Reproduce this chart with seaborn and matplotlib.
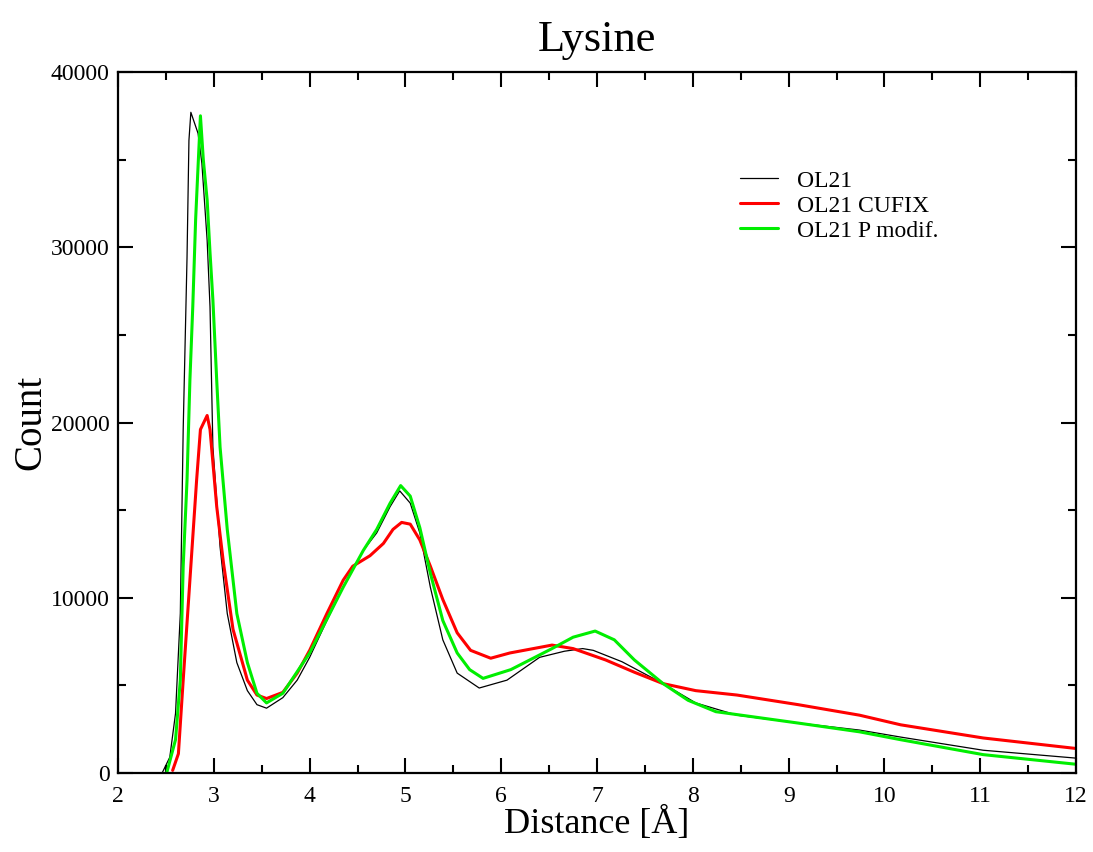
import numpy as np
import pandas as pd
import matplotlib
matplotlib.use("Agg")
import matplotlib.pyplot as plt
import seaborn as sns
from matplotlib.ticker import MultipleLocator
from matplotlib.lines import Line2D

# ---- data ----
x_ol21 = [2.46, 2.54, 2.60, 2.65, 2.68, 2.72, 2.74, 2.76, 2.835, 2.875, 2.93, 2.96, 2.99,
          3.065, 3.14, 3.24, 3.35, 3.45, 3.55, 3.72, 3.87, 4.0, 4.18, 4.35, 4.56, 4.70,
          4.84, 4.94, 5.05, 5.15, 5.26, 5.39, 5.54, 5.77, 6.06, 6.40, 6.66, 6.85, 6.96,
          7.26, 7.69, 8.03, 8.46, 9.10, 9.74, 10.17, 11.03, 12.0]
y_ol21 = [0, 900, 3400, 9100, 19600, 29400, 36100, 37700, 36500, 34800, 30400, 26600, 18600,
          12900, 9100, 6300, 4700, 3900, 3700, 4300, 5300, 6600, 8700, 10600, 12700, 13700,
          15200, 16100, 15400, 13700, 10600, 7600, 5700, 4850, 5300, 6600, 6950, 7100, 7000,
          6350, 5100, 4000, 3300, 2850, 2450, 2050, 1300, 850]

x_cufix = [2.57, 2.63, 2.68, 2.75, 2.82, 2.86, 2.93, 2.96, 3.03, 3.10, 3.20, 3.35, 3.45,
           3.55, 3.72, 3.87, 4.0, 4.18, 4.35, 4.45, 4.63, 4.77, 4.87, 4.96, 5.05, 5.15,
           5.26, 5.39, 5.54, 5.68, 5.89, 6.09, 6.53, 6.75, 7.09, 7.39, 7.69, 8.03, 8.46,
           9.10, 9.74, 10.17, 11.03, 12.0]
y_cufix = [150, 1100, 5300, 11000, 16700, 19600, 20400, 19600, 15200, 12000, 8200, 5300, 4450,
           4250, 4600, 5700, 7000, 9100, 11000, 11800, 12400, 13100, 13900, 14300, 14200, 13300,
           11800, 9900, 8000, 7000, 6550, 6850, 7300, 7100, 6450, 5750, 5100, 4700, 4450,
           3900, 3300, 2750, 2000, 1400]

x_pmod = [2.51, 2.60, 2.65, 2.68, 2.72, 2.75, 2.78, 2.81, 2.83, 2.86, 2.89, 2.93, 2.96,
          2.99, 3.03, 3.065, 3.14, 3.24, 3.35, 3.45, 3.55, 3.72, 4.0, 4.35, 4.56, 4.70,
          4.84, 4.95, 5.05, 5.15, 5.26, 5.39, 5.54, 5.67, 5.81, 6.10, 6.53, 6.75, 6.98,
          7.18, 7.39, 7.69, 7.95, 8.24, 9.10, 9.74, 10.17, 11.03, 12.0]
y_pmod = [50, 1900, 5300, 11800, 16700, 22400, 26600, 31600, 34000, 37500, 35000, 32700, 29700,
          27000, 22400, 18600, 13900, 9100, 6300, 4550, 4000, 4550, 6850, 10600, 12700, 13900,
          15400, 16400, 15800, 14000, 11400, 8700, 6850, 5900, 5400, 5900, 7100, 7750, 8100,
          7600, 6450, 5100, 4150, 3500, 2850, 2350, 1900, 1050, 500]

series = ["OL21", "OL21 CUFIX", "OL21 P modif."]
colors = ["#000000", "#ff0000", "#00ee00"]
widths = [0.9, 2.2, 2.2]

df = pd.concat([
    pd.DataFrame({"Distance": x_ol21, "Count": y_ol21, "Series": series[0]}),
    pd.DataFrame({"Distance": x_cufix, "Count": y_cufix, "Series": series[1]}),
    pd.DataFrame({"Distance": x_pmod, "Count": y_pmod, "Series": series[2]}),
])

sns.set_style("ticks")
plt.rcParams["font.family"] = ["Liberation Serif", "DejaVu Serif"]
plt.rcParams["text.color"] = "black"
plt.rcParams["axes.labelcolor"] = "black"

fig = plt.figure(figsize=(10.93, 8.52), dpi=100)
ax = fig.add_axes([0.108, 0.0927, 0.8765, 0.8228])

sns.lineplot(data=df, x="Distance", y="Count", hue="Series", hue_order=series,
             palette=dict(zip(series, colors)), sort=False, estimator=None, ax=ax,
             legend=False)
for line, w in zip(ax.get_lines(), widths):
    line.set_linewidth(w)

ax.set_xlim(2, 12)
ax.set_ylim(0, 40000)
ax.xaxis.set_major_locator(MultipleLocator(1))
ax.xaxis.set_minor_locator(MultipleLocator(0.5))
ax.yaxis.set_major_locator(MultipleLocator(10000))
ax.yaxis.set_minor_locator(MultipleLocator(5000))
ax.tick_params(which="both", direction="in", top=True, right=True, width=1.5,
               colors="black", labelsize=17)
ax.tick_params(which="major", length=11)
ax.tick_params(which="minor", length=6)
ax.tick_params(axis="x", which="major", pad=9)
ax.tick_params(axis="y", which="major", pad=6)
for s in ax.spines.values():
    s.set_linewidth(1.6)
    s.set_color("black")

ax.set_title("Lysine", fontsize=32, pad=15)
ax.set_xlabel("Distance [Å]", fontsize=26, labelpad=0)
ax.set_ylabel("Count", fontsize=28, labelpad=1)

handles = [Line2D([], [], color=c, lw=w) for c, w in zip(colors, widths)]
ax.legend(handles, series, loc="upper left", bbox_to_anchor=(0.6395, 0.8736),
          frameon=False, fontsize=17, handlelength=1.6, labelspacing=0.15,
          handletextpad=0.8, borderaxespad=0)

fig.savefig("out.png", dpi=100)
